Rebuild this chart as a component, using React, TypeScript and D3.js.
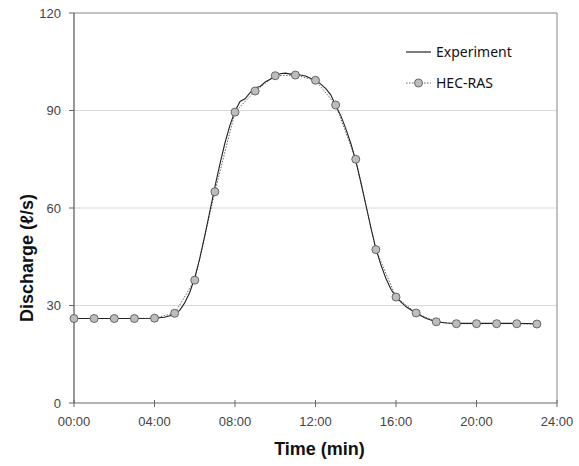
import React from "react";
import * as d3 from "d3";

// HEC-RAS simulated discharge, one point per minute
const hecTime = [0, 1, 2, 3, 4, 5, 6, 7, 8, 9, 10, 11, 12, 13, 14, 15, 16, 17, 18, 19, 20, 21, 22, 23];
const hecQ = [26, 26, 26, 26, 26.1, 27.6, 37.8, 65, 89.5, 96, 100.7, 100.9, 99.3, 91.7, 75, 47.2, 32.6, 27.7, 25, 24.4, 24.4, 24.4, 24.4, 24.3];

// Experiment discharge (dense)
const expTime = [
  0, 1, 2, 3, 4, 4.5, 5, 5.25, 5.5, 5.75, 6, 6.25, 6.5, 6.75, 7, 7.25, 7.5, 7.75, 8,
  8.25, 8.5, 8.75, 9, 9.25, 9.5, 9.75, 10, 10.25, 10.5, 10.75, 11, 11.25, 11.5, 11.75, 12,
  12.25, 12.5, 12.75, 13, 13.25, 13.5, 13.75, 14, 14.25, 14.5, 14.75, 15, 15.25, 15.5, 15.75, 16,
  16.5, 17, 17.5, 18, 18.5, 19, 20, 21, 22, 23,
];
const expQ = [
  26, 26, 26, 26, 26.1, 26.4, 27.2, 28.5, 30.8, 34, 38.5, 44.5, 51.5, 59, 66.5, 73.5, 80, 85.5, 89.8,
  92.8, 93.6, 95.5, 97, 97.4, 98.8, 99.6, 100.6, 101.3, 101.5, 101.2, 101.6, 100.9, 100.6, 99.9, 99.3,
  98.2, 96.8, 94.9, 91.6, 88.5, 84.5, 80, 74.5, 68, 61, 54, 47.5, 42.5, 38.3, 35, 32.6,
  29.6, 27.6, 26, 25, 24.6, 24.5, 24.5, 24.5, 24.5, 24.4,
];

const xTicks = [0, 4, 8, 12, 16, 20, 24];
const yTicks = [0, 30, 60, 90, 120];
const fmtTime = (m: number) => `${String(m).padStart(2, "0")}:00`;

export default function App() {
  const W = 579, H = 466;
  const left = 74, right = 557, top = 13, bottom = 403;
  const x = d3.scaleLinear().domain([0, 24]).range([left, right]);
  const y = d3.scaleLinear().domain([0, 120]).range([bottom, top]);

  const expLine = d3.line<number>().x((_, i) => x(expTime[i])).y((d) => y(d))(expQ) || "";
  const hecLine = d3.line<number>().x((_, i) => x(hecTime[i])).y((d) => y(d))(hecQ) || "";

  const tickFont = "'Liberation Sans', Arial, sans-serif";

  return (
    <svg width={W} height={H} style={{ position: "absolute", left: 0, top: 0, background: "#fff" }}>
      {/* gridlines */}
      {yTicks.filter((t) => t > 0 && t < 120).map((t) => (
        <line key={t} x1={left} x2={right} y1={y(t)} y2={y(t)} stroke="#d9d9d9" strokeWidth={1.2} />
      ))}
      {/* plot border top/right */}
      <line x1={left} x2={right} y1={top} y2={top} stroke="#868686" strokeWidth={1} />
      <line x1={right} x2={right} y1={top} y2={bottom} stroke="#868686" strokeWidth={1} />
      {/* axes */}
      <line x1={left} x2={left} y1={top} y2={bottom} stroke="#333" strokeWidth={1} />
      <line x1={left} x2={right} y1={bottom} y2={bottom} stroke="#666" strokeWidth={1} />
      {yTicks.map((t) => (
        <g key={t}>
          <line x1={left - 5} x2={left} y1={y(t)} y2={y(t)} stroke="#666" />
          <text x={left - 13} y={y(t)} dy="0.35em" textAnchor="end" fontFamily={tickFont} fontSize={13} fill="#444">{t}</text>
        </g>
      ))}
      {xTicks.map((t) => (
        <g key={t}>
          <line x1={x(t)} x2={x(t)} y1={bottom - 3} y2={bottom + 4} stroke="#666" />
          <text x={x(t)} y={bottom + 18} dy="0.35em" textAnchor="middle" fontFamily={tickFont} fontSize={13} fill="#444">{fmtTime(t)}</text>
        </g>
      ))}
      {/* axis titles */}
      <text x={(left + right) / 2 + 4} y={449} dy="0.35em" textAnchor="middle" fontFamily={tickFont} fontWeight="bold" fontSize={18} fill="#111">Time (min)</text>
      <text transform={`translate(27,${(top + bottom) / 2 + 50}) rotate(-90)`} dy="0.35em" textAnchor="middle" fontFamily={tickFont} fontWeight="bold" fontSize={18} fill="#111">Discharge (ℓ/s)</text>

      {/* series */}
      <path d={hecLine} fill="none" stroke="#666" strokeWidth={1} strokeDasharray="1.5,1.5" />
      <path d={expLine} fill="none" stroke="#222" strokeWidth={1.1} />
      {hecQ.map((q, i) => (
        <circle key={i} cx={x(hecTime[i])} cy={y(q)} r={4} fill="#bdbdbd" stroke="#5a5a5a" strokeWidth={0.9} />
      ))}

      {/* legend */}
      <line x1={406} x2={431} y1={52} y2={52} stroke="#222" strokeWidth={1.2} />
      <text x={436} y={52} dy="0.35em" fontFamily="'Noto Sans', sans-serif" fontSize={14} fill="#111">Experiment</text>
      <line x1={406} x2={431} y1={83} y2={83} stroke="#666" strokeWidth={1} strokeDasharray="1.5,1.5" />
      <circle cx={418.5} cy={83} r={4} fill="#bdbdbd" stroke="#5a5a5a" strokeWidth={0.9} />
      <text x={436} y={83} dy="0.35em" fontFamily="'Noto Sans', sans-serif" fontSize={14} fill="#111">HEC-RAS</text>
    </svg>
  );
}
